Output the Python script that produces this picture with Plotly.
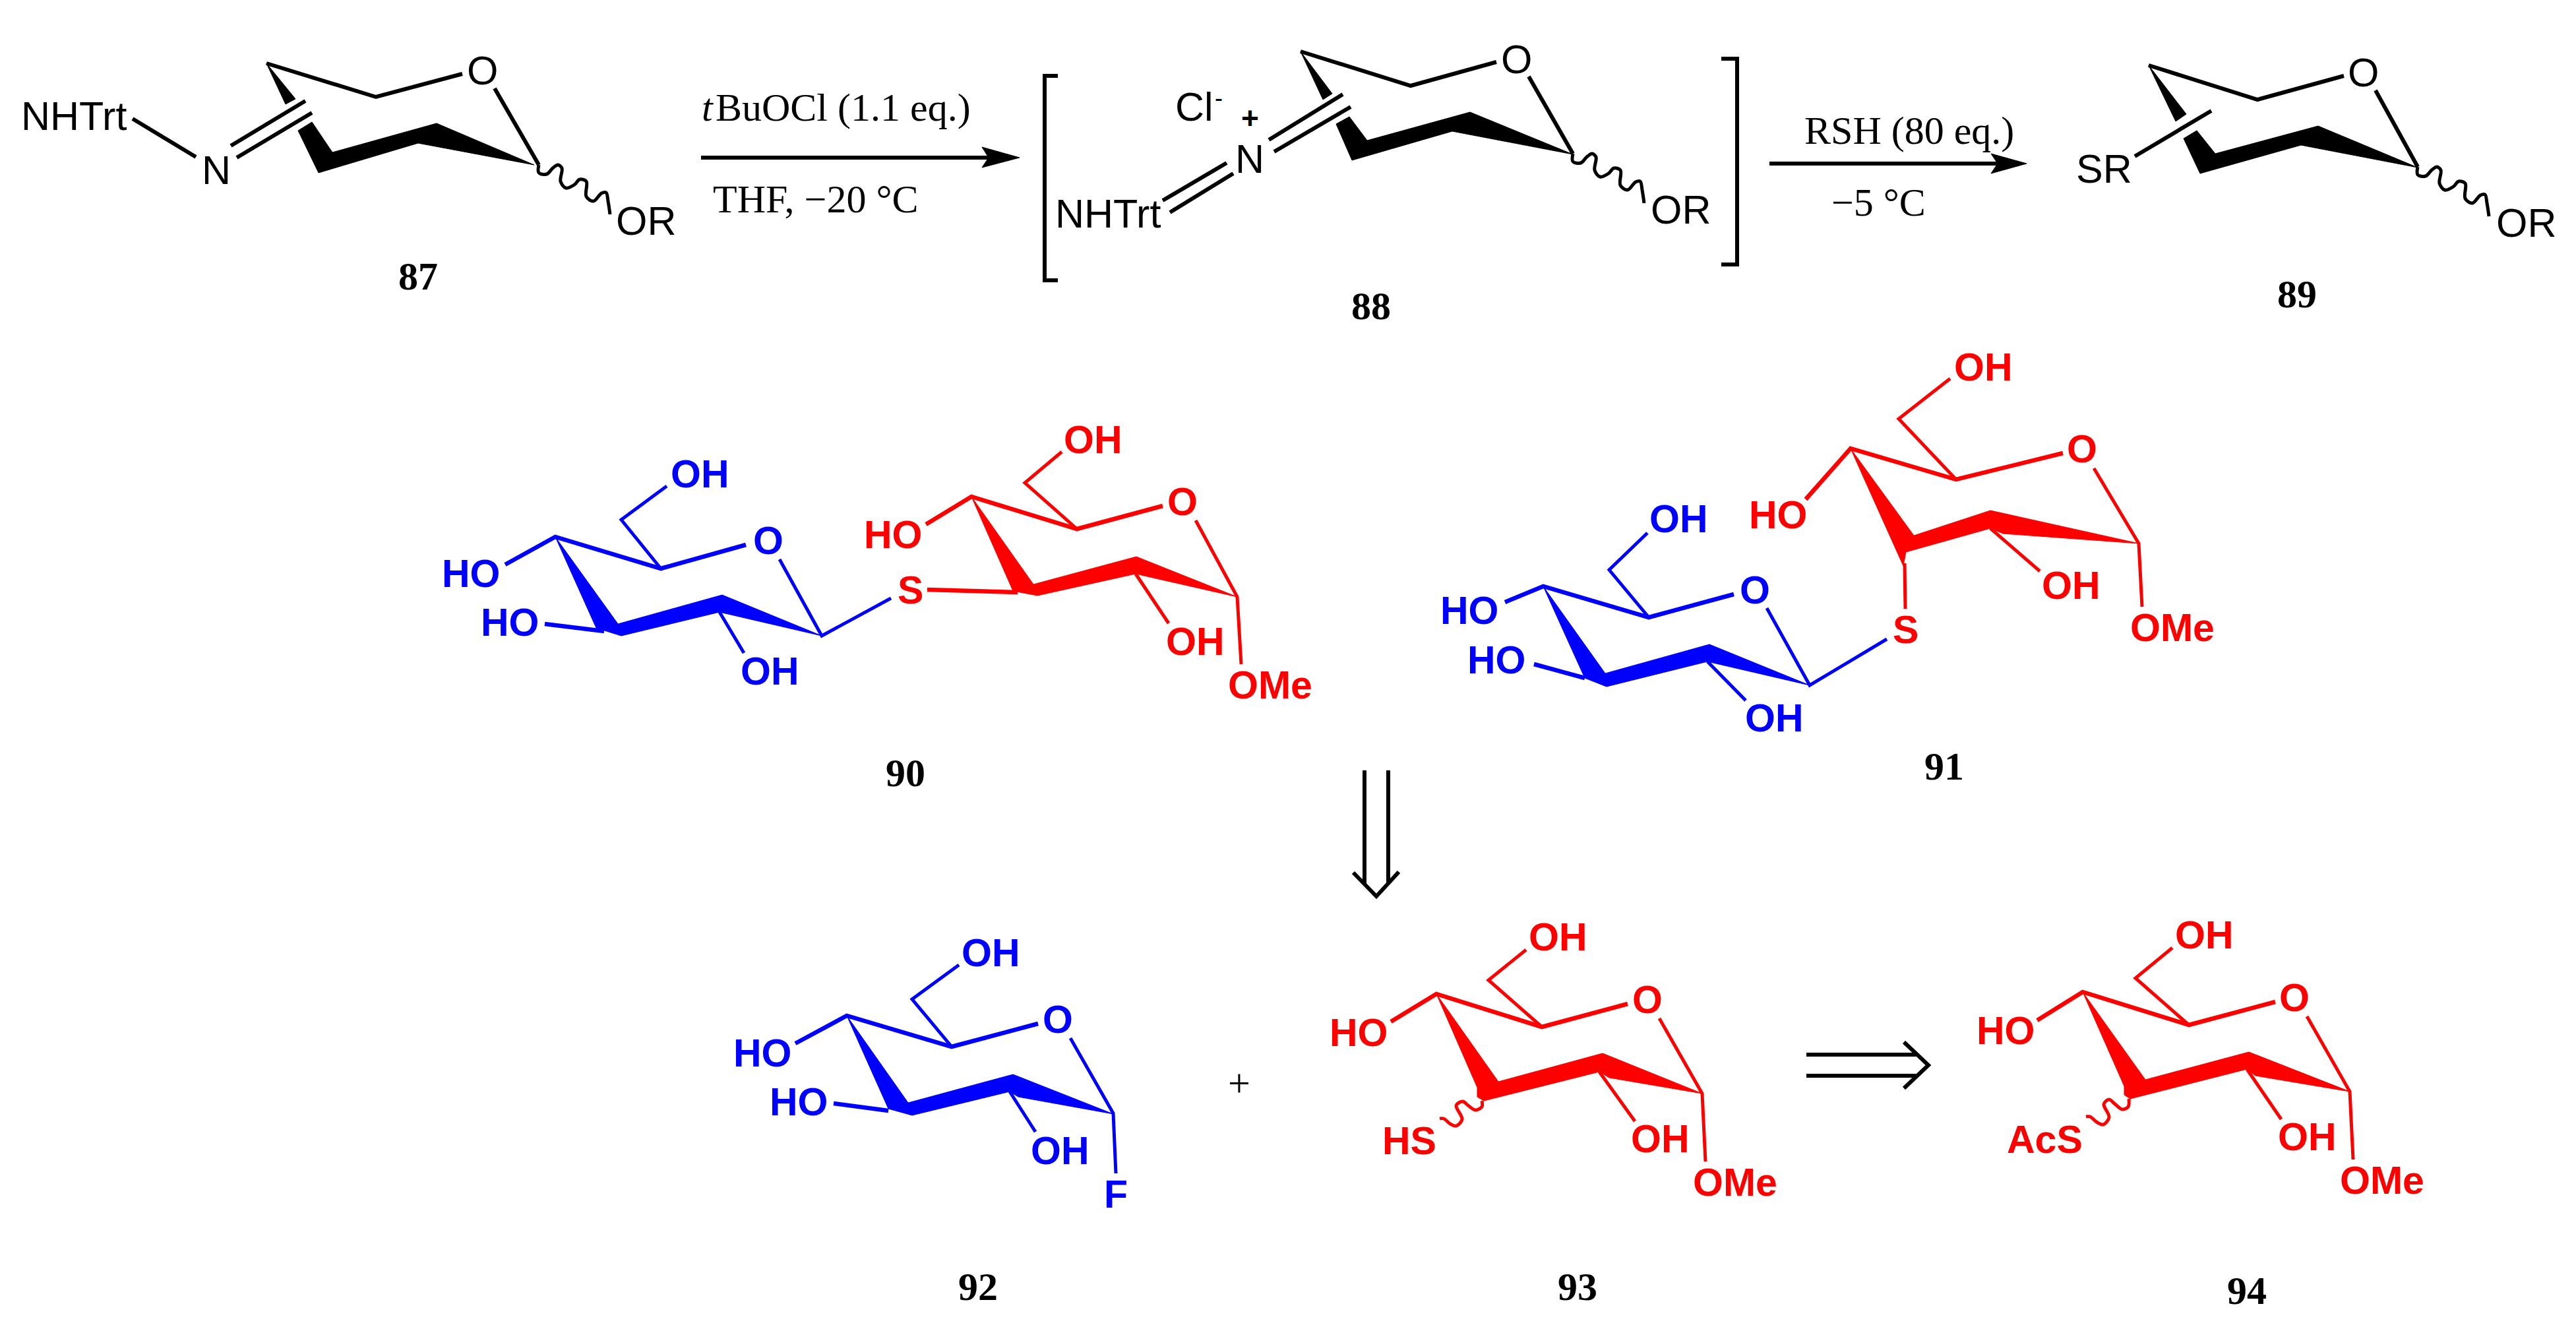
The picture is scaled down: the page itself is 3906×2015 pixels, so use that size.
import plotly.graph_objects as go

BLACK = "#000000"
BLUE = "#0000ff"
RED = "#ff0000"

WAVE_87 = [(817, 250), (817, 262), (829, 264), (838, 255), (846, 250), (852, 255), (850, 275), (858, 285),
           (871, 280), (879, 272), (889, 275), (889, 298), (900, 305), (912, 293), (919, 292), (922, 305), (925, 325)]
WAVE_88 = [(2385, 233), (2385, 245), (2397, 247), (2406, 238), (2414, 233), (2420, 238), (2418, 258), (2426, 268),
           (2439, 263), (2447, 255), (2457, 258), (2457, 281), (2468, 288), (2480, 276), (2487, 275), (2490, 288), (2493, 308)]
WAVE_89 = [(3666, 253), (3666, 265), (3678, 267), (3687, 258), (3695, 253), (3701, 258), (3699, 278), (3707, 288),
           (3720, 283), (3728, 275), (3738, 278), (3738, 301), (3749, 308), (3761, 296), (3768, 295), (3771, 308), (3774, 328)]
WAVE_93 = [(2247, 1669), (2247, 1678), (2237, 1683), (2226, 1676), (2218, 1670), (2208, 1676), (2217, 1697),
           (2208, 1707), (2199, 1704), (2189, 1696), (2183, 1696)]
WAVE_94 = [(3228, 1666), (3227, 1678), (3218, 1682), (3207, 1674), (3198, 1667), (3190, 1674), (3198, 1694),
           (3189, 1705), (3179, 1701), (3169, 1693), (3163, 1693)]

BONDS_87 = [[(404, 96), (570, 147), (701, 112)], [(750, 134), (817, 250)], [(463, 153), (350, 221)],
            [(473, 171), (359, 239)], [(201, 180), (297, 238)]]
WEDGES_87 = [[(404, 96), (448, 150), (433, 158)],
             [(473, 185), (504, 231), (662, 187), (810, 250), (634, 217), (483, 262), (452, 198)]]

BONDS_88 = [[(1972, 78), (2139, 130), (2269, 94)], [(2318, 116), (2385, 233)], [(2036, 143), (1924, 212)],
            [(2048, 162), (1932, 230)], [(1860, 247), (1763, 304)], [(1870, 263), (1774, 322)]]
WEDGES_88 = [[(1972, 78), (2020, 142), (2006, 151)],
             [(2046, 177), (2073, 213), (2229, 170), (2385, 234), (2202, 199), (2050, 243), (2026, 188)]]

BONDS_89 = [[(3258, 99), (3423, 151), (3554, 115)], [(3602, 137), (3666, 253)], [(3353, 168), (3237, 237)]]
WEDGES_89 = [[(3258, 99), (3315, 173), (3299, 184)],
             [(3331, 198), (3359, 233), (3515, 191), (3666, 254), (3489, 220), (3336, 263), (3311, 210)]]

BLUE_HEAVY = [[(766, 856), (842, 814), (1002, 862), (1131, 826)],
              [(2282, 913), (2340, 889), (2500, 936), (2629, 901)],
              [(1206, 1582), (1284, 1540), (1443, 1587), (1574, 1552)],
              [(826, 946), (916, 957)], [(2326, 1007), (2403, 1028)], [(1264, 1673), (1347, 1684)]]
BLUE_THIN = [[(1011, 737), (942, 788), (1002, 862)], [(1182, 848), (1246, 964), (1351, 907)], [(1091, 928), (1128, 990)],
             [(2498, 808), (2440, 864), (2500, 936)], [(2679, 922), (2744, 1039), (2861, 969)], [(2589, 1003), (2647, 1062)],
             [(1454, 1463), (1383, 1515), (1443, 1587)], [(1623, 1574), (1688, 1688), (1692, 1779)], [(1531, 1655), (1570, 1716)]]
BLUE_WEDGES = [[(842, 814), (937, 946), (1095, 902), (1246, 964), (1091, 928), (942, 964), (904, 952)],
               [(2340, 889), (2434, 1021), (2592, 977), (2744, 1039), (2589, 1003), (2436, 1041), (2403, 1028)],
               [(1284, 1540), (1377, 1672), (1536, 1629), (1688, 1689), (1544, 1663), (1531, 1655), (1383, 1691), (1347, 1681)]]

RED_HEAVY = [[(1404, 795), (1473, 753), (1633, 802), (1763, 767)], [(1406, 894), (1543, 898)],
             [(2738, 757), (2806, 680), (2966, 727), (3128, 687)],
             [(2109, 1549), (2178, 1507), (2338, 1557), (2468, 1522)],
             [(3089, 1547), (3158, 1504), (3319, 1554), (3450, 1519)]]
RED_THIN = [[(1610, 685), (1554, 732), (1633, 802)], [(1813, 789), (1876, 905), (1882, 1007)], [(1722, 870), (1772, 945)],
            [(2957, 574), (2879, 635), (2966, 727)], [(3175, 710), (3243, 824), (3248, 920)], [(3018, 801), (3093, 866)],
            [(2889, 923), (2888, 854)],
            [(2314, 1440), (2257, 1486), (2338, 1557)], [(2516, 1544), (2581, 1658), (2586, 1761)], [(2425, 1625), (2479, 1700)],
            [(3294, 1437), (3238, 1483), (3319, 1554)], [(3498, 1541), (3563, 1655), (3568, 1758)], [(3407, 1621), (3459, 1697)]]
RED_WEDGES = [[(1473, 753), (1567, 886), (1723, 844), (1876, 905), (1722, 870), (1573, 903), (1536, 896)],
              [(2806, 680), (2902, 812), (3018, 774), (3243, 824), (3037, 809), (3018, 801), (2890, 837), (2886, 858)],
              [(2178, 1507), (2272, 1640), (2430, 1597), (2581, 1658), (2440, 1634), (2425, 1625), (2250, 1669), (2240, 1663), (2240, 1649)],
              [(3158, 1504), (3253, 1637), (3410, 1595), (3563, 1655), (3420, 1631), (3407, 1621), (3230, 1666), (3221, 1660), (3221, 1647)]]

ARROW_LINES = [[(1063, 239), (1500, 239)], [(2683, 248), (3030, 248)]]
ARROW_HEADS = [[(1489, 223), (1546, 239), (1489, 254), (1499, 239)], [(3019, 233), (3073, 248), (3019, 263), (3029, 248)]]
BRACKETS = [[(1604, 115), (1584, 115), (1584, 425), (1604, 425)], [(2610, 89), (2634, 89), (2634, 401), (2610, 401)]]
RETRO = [[(2069, 1168), (2069, 1339)], [(2105, 1168), (2105, 1339)], [(2052, 1323), (2087, 1359), (2121, 1322)],
         [(2739, 1599), (2905, 1599)], [(2739, 1631), (2905, 1631)], [(2887, 1580), (2924, 1615), (2887, 1650)]]

BLACK_TEXT = ["NHTrt", "N", "O", "OR", "Cl", "N", "O", "NHTrt", "OR", "SR", "O", "OR"]
BLACK_X = [112, 328, 731, 980, 1811, 1895, 2299, 1680, 2549, 3190, 3583, 3831]
BLACK_Y = [176, 258, 107, 335, 162, 241, 90, 324, 318, 256, 110, 338]

CHARGE_TEXT = ["-", "+"]
CHARGE_X = [1848, 1895]
CHARGE_Y = [148, 179]
CHARGE_SIZE = [36, 46]
CHARGE_WEIGHT = ["normal", "bold"]

BLUE_TEXT = ["OH", "HO", "HO", "OH", "O", "OH", "HO", "HO", "OH", "O", "OH", "HO", "HO", "OH", "O", "F"]
BLUE_X = [1061, 714, 773, 1167, 1165, 2545, 2228, 2269, 2690, 2661, 1502, 1156, 1211, 1607, 1604, 1692]
BLUE_Y = [719, 870, 944, 1018, 820, 787, 926, 1001, 1089, 895, 1445, 1597, 1671, 1745, 1546, 1811]

RED_TEXT = ["S", "OH", "HO", "OH", "OMe", "O", "S", "OH", "HO", "OH", "OMe", "O",
            "OH", "HO", "HS", "OH", "OMe", "O", "OH", "HO", "AcS", "OH", "OMe", "O"]
RED_X = [1380, 1657, 1354, 1812, 1926, 1793, 2889, 3007, 2696, 3140, 3294, 3157,
         2362, 2060, 2137, 2517, 2631, 2498, 3342, 3041, 3100, 3498, 3612, 3479]
RED_Y = [895, 667, 811, 973, 1039, 761, 955, 557, 781, 888, 952, 681,
         1421, 1566, 1730, 1727, 1793, 1516, 1418, 1563, 1728, 1724, 1790, 1513]

NUM_TEXT = ["87", "88", "89", "90", "91", "92", "93", "94"]
NUM_X = [634, 2079, 3483, 1373, 2948, 1483, 2392, 3407]
NUM_Y = [419, 464, 446, 1172, 1162, 1951, 1951, 1957]

REAGENT_TEXT = ["BuOCl (1.1 eq.)", "THF, −20 °C", "RSH (80 eq.)", "−5 °C", "+"]
REAGENT_X = [1278, 1236, 2895, 2848, 1879]
REAGENT_Y = [163, 302, 198, 307, 1642]
ITALIC_TEXT = ["t"]
ITALIC_X = [1073]
ITALIC_Y = [163]

SANS = "Liberation Sans"
SERIF = "Liberation Serif"


def flat(paths):
    xs, ys = [], []
    for p in paths:
        xs += [pt[0] for pt in p] + [None]
        ys += [pt[1] for pt in p] + [None]
    return xs, ys


fig = go.Figure()


def add_lines(paths, color, width, shape="linear"):
    xs, ys = flat(paths)
    fig.add_trace(go.Scatter(x=xs, y=ys, mode="lines", line=dict(color=color, width=width, shape=shape), hoverinfo="skip"))


def add_fill(polys, color):
    for p in polys:
        xs, ys = flat([p + p[:1]])
        fig.add_trace(go.Scatter(x=xs[:-1], y=ys[:-1], mode="lines", fill="toself", fillcolor=color,
                                 line=dict(color=color, width=1), hoverinfo="skip"))


def add_text(texts, xs, ys, color, size, family, weight="normal", style="normal"):
    for t, x, y in zip(texts, xs, ys):
        fig.add_annotation(x=x, y=y, text=t, showarrow=False, xanchor="center", yanchor="middle",
                           font=dict(color=color, size=size, family=family, weight=weight, style=style))


add_lines(BONDS_87 + BONDS_88 + BONDS_89, BLACK, 6)
add_fill(WEDGES_87 + WEDGES_88 + WEDGES_89, BLACK)
add_lines([WAVE_87, WAVE_88, WAVE_89], BLACK, 5, "spline")

add_lines(BLUE_HEAVY, BLUE, 6.5)
add_lines(BLUE_THIN, BLUE, 5)
add_fill(BLUE_WEDGES, BLUE)

add_lines(RED_HEAVY, RED, 6.5)
add_lines(RED_THIN, RED, 5)
add_fill(RED_WEDGES, RED)
add_lines([WAVE_93, WAVE_94], RED, 5, "spline")

add_lines(ARROW_LINES + RETRO, BLACK, 6)
add_fill(ARROW_HEADS, BLACK)
add_lines(BRACKETS, BLACK, 6)

add_text(BLACK_TEXT, BLACK_X, BLACK_Y, BLACK, 61, SANS)
for t, x, y, s, w in zip(CHARGE_TEXT, CHARGE_X, CHARGE_Y, CHARGE_SIZE, CHARGE_WEIGHT):
    add_text([t], [x], [y], BLACK, s, SANS, w)
add_text(BLUE_TEXT, BLUE_X, BLUE_Y, BLUE, 59, SANS, "bold")
add_text(RED_TEXT, RED_X, RED_Y, RED, 59, SANS, "bold")
add_text(NUM_TEXT, NUM_X, NUM_Y, BLACK, 60, SERIF, "bold")
add_text(REAGENT_TEXT, REAGENT_X, REAGENT_Y, BLACK, 60, SERIF)
add_text(ITALIC_TEXT, ITALIC_X, ITALIC_Y, BLACK, 60, SERIF, style="italic")

fig.update_layout(
    width=3906, height=2015, margin=dict(l=0, r=0, t=0, b=0),
    paper_bgcolor="white", plot_bgcolor="white", showlegend=False,
    xaxis=dict(range=[0, 3906], visible=False, fixedrange=True),
    yaxis=dict(range=[2015, 0], visible=False, fixedrange=True),
)
fig.write_html("out.html", config={"displayModeBar": False}, post_script="document.body.style.margin='0';")
